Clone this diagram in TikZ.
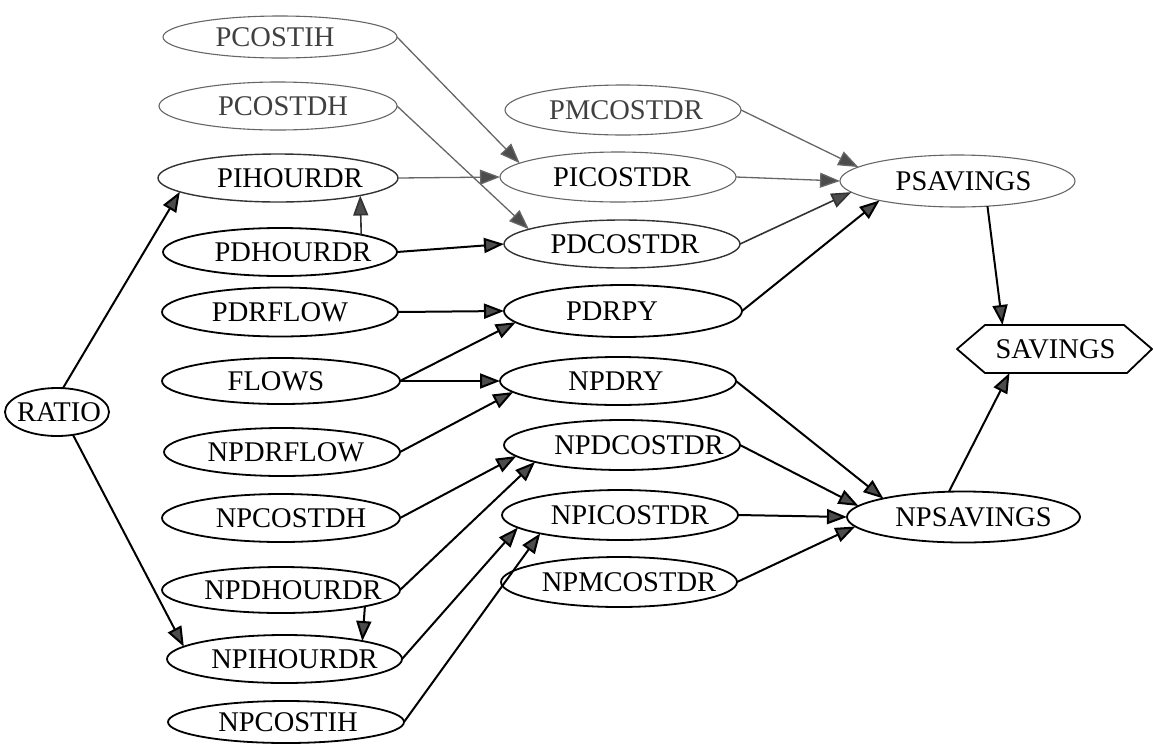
\documentclass[tikz,border=0pt]{standalone}
\usepackage{fontspec}
\setmainfont{Liberation Serif}
\usetikzlibrary{shapes.geometric,arrows.meta}
\tikzset{
  ell/.style={ellipse, inner sep=0pt, outer sep=0pt},
  boldnode/.style={ell, draw=black, line width=1.8pt},
  lightnode/.style={ell, draw=black!60, line width=1.1pt},
  midnode/.style={ell, draw=black!80, line width=1.4pt},
  lab/.style={font=\fontsize{28.5}{30}\selectfont, text=black, inner sep=0pt},
  lablight/.style={lab, text=black!75},
  tip/.style={-{Triangle[length=20pt,width=15pt,fill=black!70]}},
  ebold/.style={tip, draw=black, line width=2pt},
  elight/.style={tip, draw=black!60, line width=1.3pt},
  emid/.style={tip, draw=black!80, line width=1.6pt}
}
\begin{document}
\begin{tikzpicture}[x=1pt,y=-1pt]
\useasboundingbox (0,0) rectangle (1153,745);
% left column
\node[lightnode, minimum width=234pt, minimum height=42pt, label={[lablight,xshift=-5pt]center:PCOSTIH}] (PCOSTIH) at (280,37) {};
\node[lightnode, minimum width=238pt, minimum height=48pt, label={[lablight,xshift=5pt]center:PCOSTDH}] (PCOSTDH) at (278,106) {};
\node[midnode, minimum width=240pt, minimum height=48pt, label={[lab,xshift=12pt]center:PIHOURDR}] (PIHOURDR) at (278,178) {};
\node[boldnode, minimum width=234pt, minimum height=48pt, label={[lab,xshift=13pt]center:PDHOURDR}] (PDHOURDR) at (280,252) {};
\node[boldnode, minimum width=236pt, minimum height=49pt, label={[lab,xshift=0pt]center:PDRFLOW}] (PDRFLOW) at (280,312) {};
\node[boldnode, minimum width=238pt, minimum height=46pt, label={[lab,xshift=-5pt]center:FLOWS}] (FLOWS) at (281,381) {};
\node[boldnode, minimum width=236pt, minimum height=48pt, label={[lab,xshift=4pt]center:NPDRFLOW}] (NPDRFLOW) at (282,452) {};
\node[boldnode, minimum width=238pt, minimum height=48pt, label={[lab,xshift=10pt]center:NPCOSTDH}] (NPCOSTDH) at (281,518) {};
\node[boldnode, minimum width=238pt, minimum height=46pt, label={[lab,xshift=12pt]center:NPDHOURDR}] (NPDHOURDR) at (281,590) {};
\node[boldnode, minimum width=235pt, minimum height=48pt, label={[lab,xshift=10pt]center:NPIHOURDR}] (NPIHOURDR) at (284.5,659) {};
\node[boldnode, minimum width=236pt, minimum height=42pt, label={[lab,xshift=2pt]center:NPCOSTIH}] (NPCOSTIH) at (286,722) {};
\node[boldnode, minimum width=104pt, minimum height=48pt, label={[lab,xshift=2pt]center:RATIO}] (RATIO) at (57,412) {};
% middle column
\node[lightnode, minimum width=236pt, minimum height=50pt, label={[lablight,xshift=3pt]center:PMCOSTDR}] (PMCOSTDR) at (623,110) {};
\node[lightnode, minimum width=236pt, minimum height=50pt, label={[lab,xshift=4pt]center:PICOSTDR}] (PICOSTDR) at (618,177) {};
\node[midnode, minimum width=236pt, minimum height=48pt, label={[lab,xshift=3pt]center:PDCOSTDR}] (PDCOSTDR) at (622,244) {};
\node[boldnode, minimum width=238pt, minimum height=52pt, label={[lab,xshift=-11pt]center:PDRPY}] (PDRPY) at (623,311) {};
\node[boldnode, minimum width=236pt, minimum height=48pt, label={[lab,xshift=-2pt]center:NPDRY}] (NPDRY) at (618,381) {};
\node[boldnode, minimum width=236pt, minimum height=50pt, label={[lab,xshift=17pt]center:NPDCOSTDR}] (NPDCOSTDR) at (622,445) {};
\node[boldnode, minimum width=236pt, minimum height=50pt, label={[lab,xshift=10pt]center:NPICOSTDR}] (NPICOSTDR) at (620,515) {};
\node[boldnode, minimum width=236pt, minimum height=50pt, label={[lab,xshift=10pt]center:NPMCOSTDR}] (NPMCOSTDR) at (619,582) {};
% right column
\node[lightnode, minimum width=235pt, minimum height=52pt, label={[lab,xshift=6pt]center:PSAVINGS}] (PSAVINGS) at (957.5,181) {};
\node[boldnode, minimum width=233pt, minimum height=51pt, label={[lab,xshift=10pt]center:NPSAVINGS}] (NPSAVINGS) at (963.5,517) {};
\node[rectangle, inner sep=0pt, outer sep=0pt, minimum width=195pt, minimum height=48pt, label={[lab,xshift=1pt]center:SAVINGS}] (SAVINGS) at (1054.5,349) {};
\draw[black, line width=1.8pt, line join=round]
  (SAVINGS.west) -- ([xshift=28pt]SAVINGS.north west) -- ([xshift=-28pt]SAVINGS.north east)
  -- (SAVINGS.east) -- ([xshift=-25pt]SAVINGS.south east) -- ([xshift=28pt]SAVINGS.south west) -- cycle;
% edges
\draw[elight] (PCOSTIH.east) -- (PICOSTDR.172);
\draw[elight] (PCOSTDH.east) -- (PDCOSTDR.171);
\draw[elight] (PIHOURDR.east) -- (PICOSTDR.west);
\draw[ebold] (PDHOURDR.east) -- (PDCOSTDR.west);
\draw[emid] (PDHOURDR.12) -- (PIHOURDR.-12);
\draw[ebold] (RATIO.76) -- (PIHOURDR.188);
\draw[ebold] (RATIO.-55) -- (NPIHOURDR.173);
\draw[elight] (PMCOSTDR.east) -- (PSAVINGS.172);
\draw[elight] (PICOSTDR.east) -- (PSAVINGS.west);
\draw[emid] (PDCOSTDR.east) -- (PSAVINGS.186);
\draw[ebold] (PDRPY.east) -- (PSAVINGS.194);
\draw[ebold] (PDRFLOW.east) -- (PDRPY.west);
\draw[ebold] (FLOWS.east) -- (PDRPY.186);
\draw[ebold] (FLOWS.east) -- (NPDRY.west);
\draw[ebold] (NPDRFLOW.east) -- (NPDRY.186);
\draw[ebold] (NPCOSTDH.east) -- (NPDCOSTDR.186);
\draw[ebold] (NPDHOURDR.east) -- (NPDCOSTDR.191);
\draw[ebold] (NPDHOURDR.-11) -- (NPIHOURDR.13);
\draw[ebold] (NPIHOURDR.east) -- (NPICOSTDR.187);
\draw[ebold] (NPCOSTIH.east) -- (NPICOSTDR.193);
\draw[ebold] (NPDRY.east) -- (NPSAVINGS.167);
\draw[ebold] (NPDCOSTDR.east) -- (NPSAVINGS.174);
\draw[ebold] (NPICOSTDR.east) -- (NPSAVINGS.west);
\draw[ebold] (NPMCOSTDR.east) -- (NPSAVINGS.185);
\draw[ebold] (PSAVINGS.-40) -- ([xshift=-52pt]SAVINGS.north);
\draw[ebold] (NPSAVINGS.120) -- ([xshift=-45pt]SAVINGS.south);
\end{tikzpicture}
\end{document}
